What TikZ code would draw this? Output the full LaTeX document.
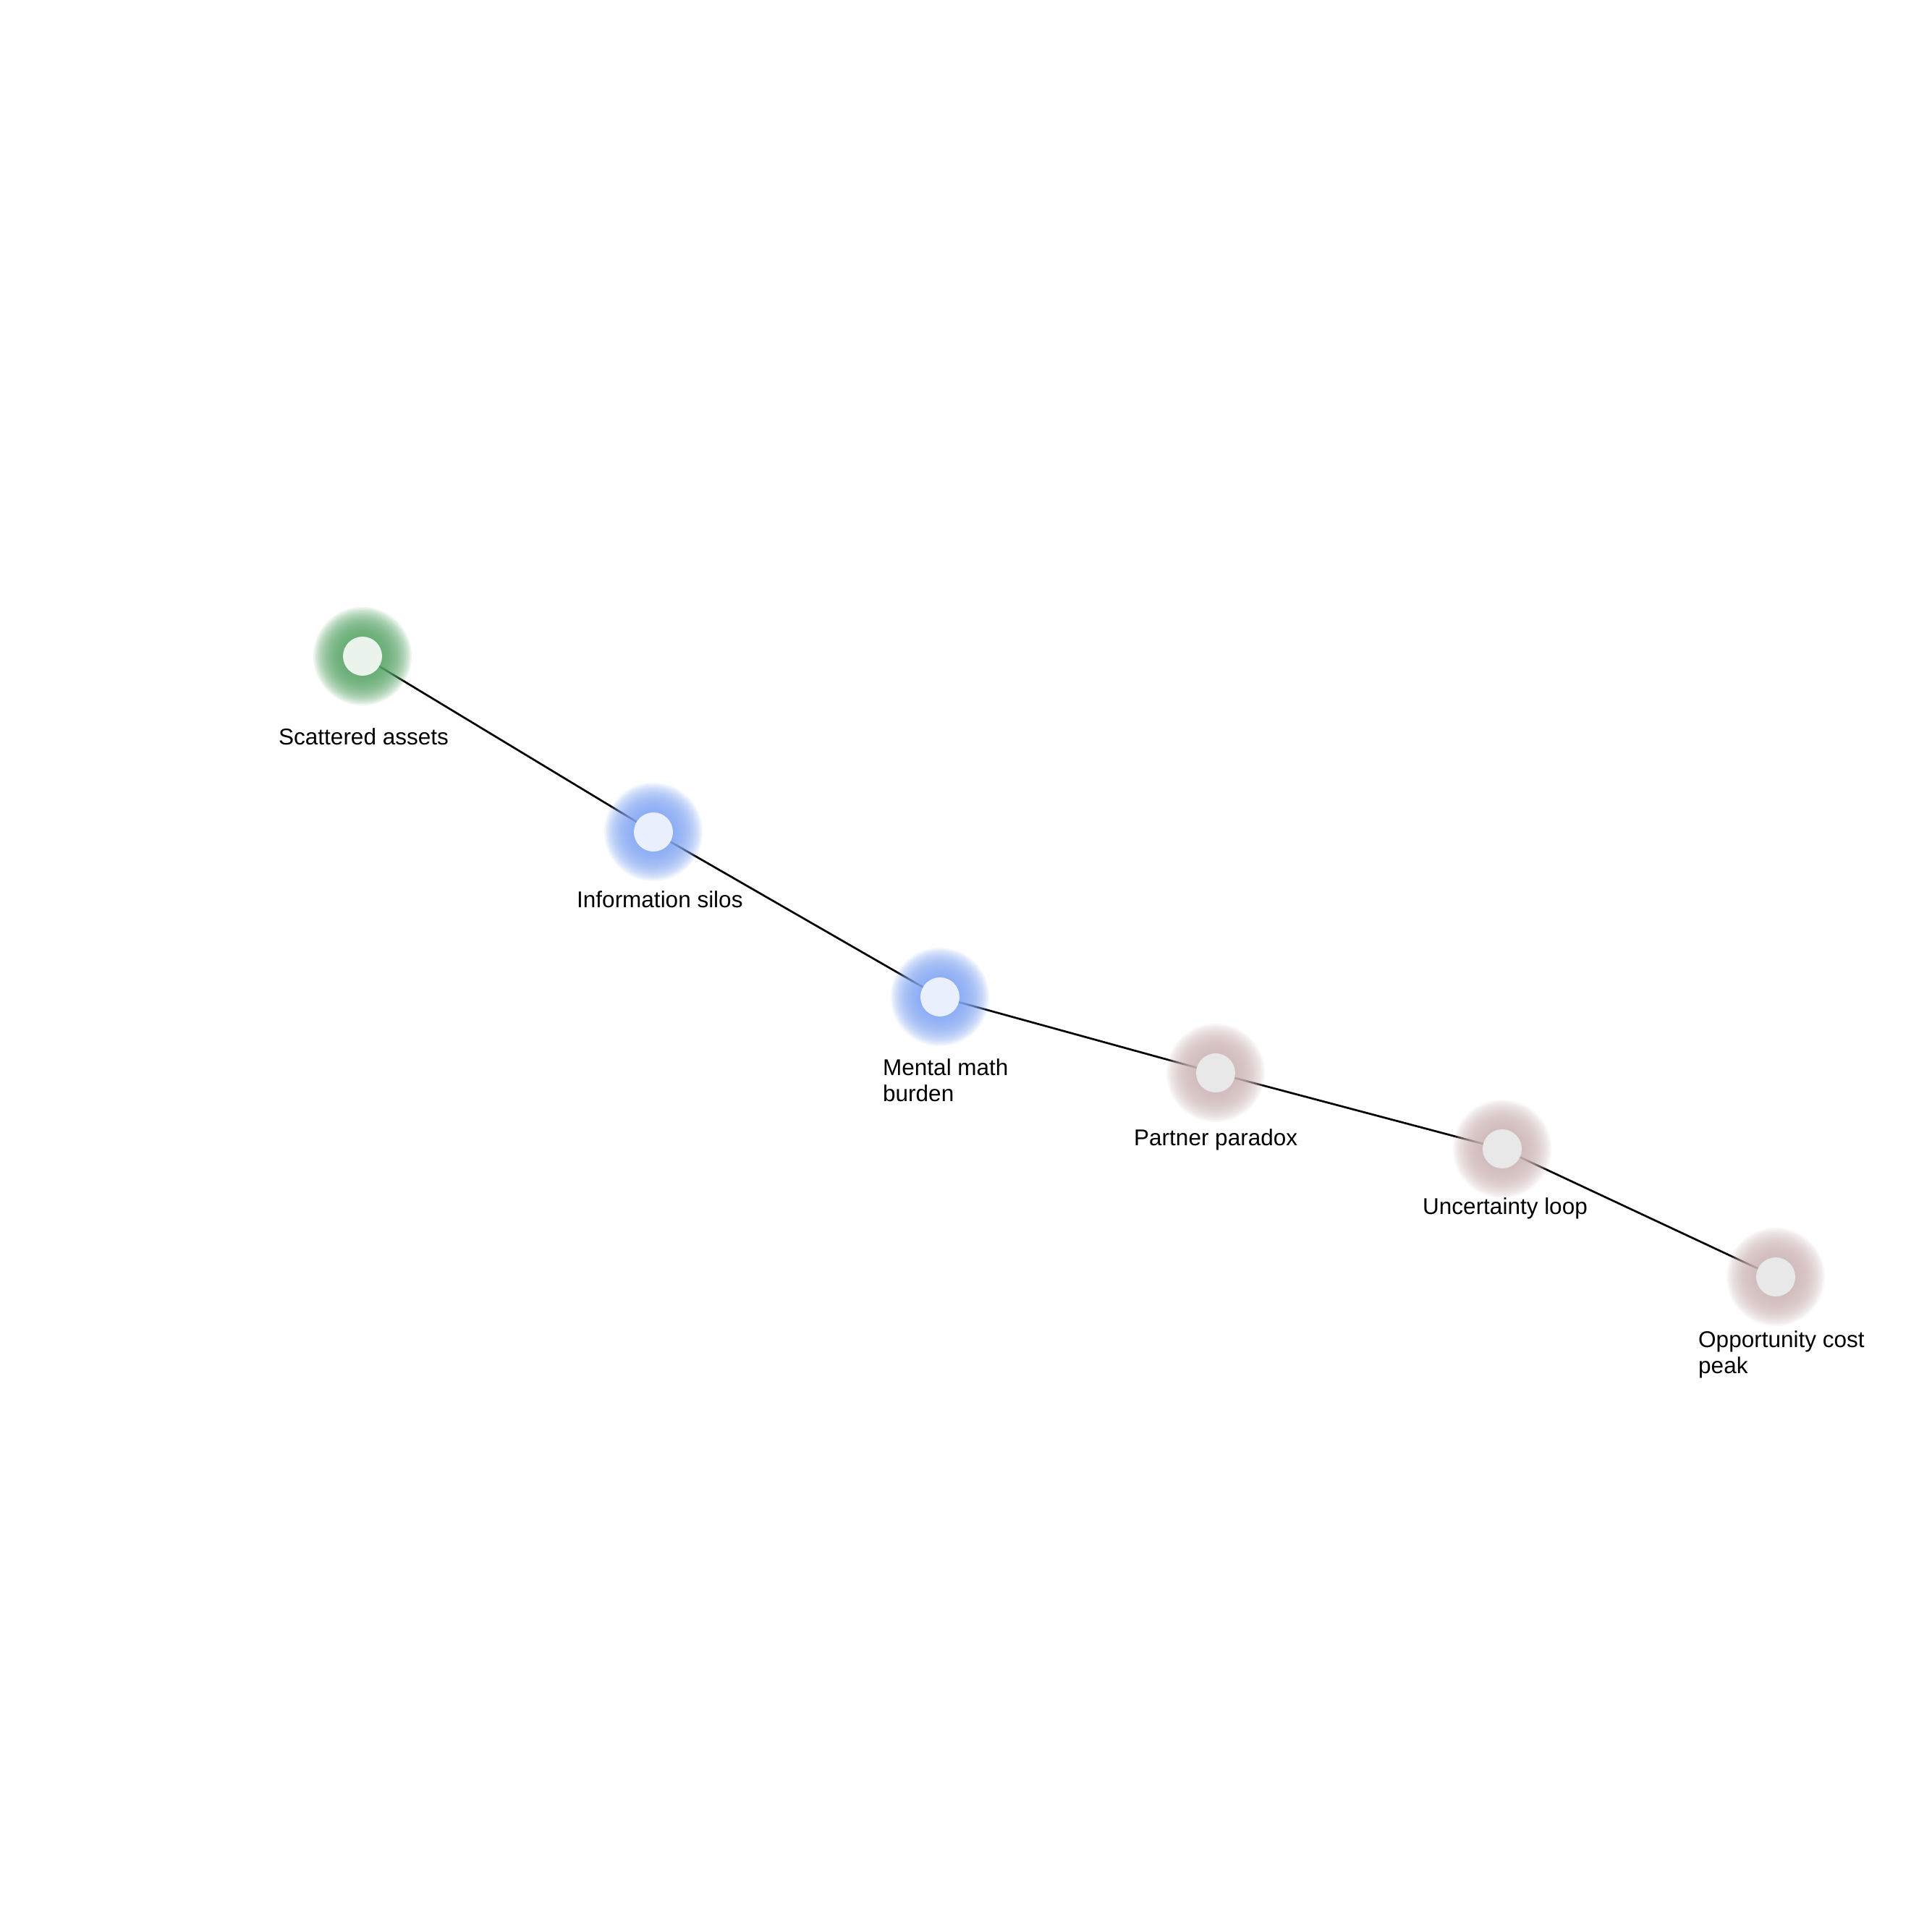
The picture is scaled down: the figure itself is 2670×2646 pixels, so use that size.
\documentclass[tikz,border=0pt]{standalone}
\usepackage{fontspec}
\setmainfont{Liberation Sans}
\pgfdeclarelayer{bg}
\pgfdeclarelayer{lines}
\pgfdeclarelayer{glow}
\pgfsetlayers{bg,lines,glow,main}
\definecolor{gglow}{HTML}{5FAA6E}
\definecolor{bglow}{HTML}{88ABF5}
\definecolor{pglow}{HTML}{D2BBBB}
\definecolor{gin}{HTML}{EAF4EC}
\definecolor{bin}{HTML}{E9EFFC}
\definecolor{pin}{HTML}{E8E8E8}
\tikzset{
  dot/.style={circle, fill=#1, draw=none, minimum size=54pt, inner sep=0pt},
  lbl/.style={anchor=base west, inner sep=0pt, align=left, font=\fontsize{31.5}{36}\selectfont, text=black},
  link/.style={line width=2.7pt, draw=black},
  glowring/.style={fill=#1, draw=none, fill opacity=0.105},
}
\newcommand{\glowat}[2]{\begin{pgfonlayer}{glow}\foreach \rr in {30,32,...,68}{\fill[glowring=#2] (#1.center) circle (\rr);}\end{pgfonlayer}}
\begin{document}
\begin{tikzpicture}[x=1pt, y=-1pt]
\useasboundingbox (0,0) rectangle (2670,2646);
\begin{pgfonlayer}{bg}
\fill[white] (0,0) rectangle (2670,2646);
\end{pgfonlayer}
\node[dot=gin] (n1) at (501,907) {};
\node[dot=bin] (n2) at (903,1150) {};
\node[dot=bin] (n3) at (1299,1378) {};
\node[dot=pin] (n4) at (1680,1483) {};
\node[dot=pin] (n5) at (2076,1588) {};
\node[dot=pin] (n6) at (2454,1765) {};
\glowat{n1}{gglow}
\glowat{n2}{bglow}
\glowat{n3}{bglow}
\glowat{n4}{pglow}
\glowat{n5}{pglow}
\glowat{n6}{pglow}
\begin{pgfonlayer}{lines}
\draw[link] (n1.center) -- (n2.center) -- (n3.center) -- (n4.center) -- (n5.center) -- (n6.center);
\end{pgfonlayer}
\node[lbl] (t1) at (385,1029) {Scattered assets};
\node[lbl] (t2) at (797,1254) {Information silos};
\node[lbl] (t3) at (1220,1522) {Mental math\\burden};
\node[lbl] (t4) at (1567,1583) {Partner paradox};
\node[lbl] (t5) at (1966,1678) {Uncertainty loop};
\node[lbl] (t6) at (2347,1898) {Opportunity cost\\peak};
\end{tikzpicture}
\end{document}
